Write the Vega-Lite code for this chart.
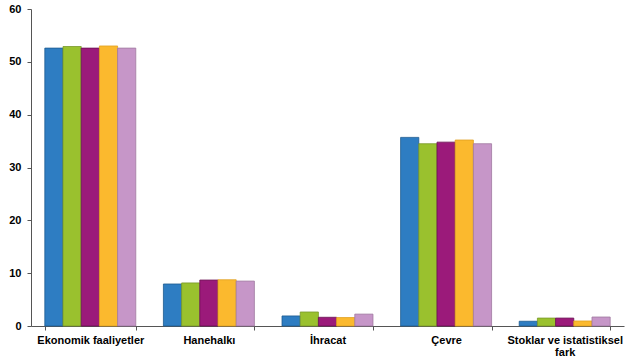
{
  "$schema": "https://vega.github.io/schema/vega-lite/v6.json",
  "width": 593,
  "height": 317,
  "autosize": {"type": "none"},
  "padding": {"left": 31, "top": 9, "right": 17, "bottom": 34},
  "background": "white",
  "data": {
    "values": [
      {"kategori": "Ekonomik faaliyetler", "seri": "S1", "deger": 52.6},
      {"kategori": "Ekonomik faaliyetler", "seri": "S2", "deger": 52.9},
      {"kategori": "Ekonomik faaliyetler", "seri": "S3", "deger": 52.6},
      {"kategori": "Ekonomik faaliyetler", "seri": "S4", "deger": 53.0},
      {"kategori": "Ekonomik faaliyetler", "seri": "S5", "deger": 52.6},
      {"kategori": "Hanehalkı", "seri": "S1", "deger": 7.95},
      {"kategori": "Hanehalkı", "seri": "S2", "deger": 8.15},
      {"kategori": "Hanehalkı", "seri": "S3", "deger": 8.7},
      {"kategori": "Hanehalkı", "seri": "S4", "deger": 8.75},
      {"kategori": "Hanehalkı", "seri": "S5", "deger": 8.5},
      {"kategori": "İhracat", "seri": "S1", "deger": 1.9},
      {"kategori": "İhracat", "seri": "S2", "deger": 2.65},
      {"kategori": "İhracat", "seri": "S3", "deger": 1.65},
      {"kategori": "İhracat", "seri": "S4", "deger": 1.6},
      {"kategori": "İhracat", "seri": "S5", "deger": 2.25},
      {"kategori": "Çevre", "seri": "S1", "deger": 35.7},
      {"kategori": "Çevre", "seri": "S2", "deger": 34.5},
      {"kategori": "Çevre", "seri": "S3", "deger": 34.8},
      {"kategori": "Çevre", "seri": "S4", "deger": 35.2},
      {"kategori": "Çevre", "seri": "S5", "deger": 34.5},
      {"kategori": "Stoklar ve istatistiksel fark", "seri": "S1", "deger": 0.9},
      {"kategori": "Stoklar ve istatistiksel fark", "seri": "S2", "deger": 1.5},
      {"kategori": "Stoklar ve istatistiksel fark", "seri": "S3", "deger": 1.5},
      {"kategori": "Stoklar ve istatistiksel fark", "seri": "S4", "deger": 0.95},
      {"kategori": "Stoklar ve istatistiksel fark", "seri": "S5", "deger": 1.7}
    ]
  },
  "mark": {"type": "bar", "strokeWidth": 0.8},
  "encoding": {
    "x": {
      "field": "kategori",
      "type": "nominal",
      "sort": null,
      "title": null,
      "scale": {"paddingInner": 0.233, "paddingOuter": 0.1165},
      "axis": {
        "labelAngle": 0,
        "labelFont": "Liberation Sans",
        "labelFontWeight": "bold",
        "labelFontSize": 11,
        "labelColor": "#000000",
        "labelPadding": 4,
        "labelLimit": 200,
        "labelLineHeight": 12,
        "labelExpr": "datum.value == 'Stoklar ve istatistiksel fark' ? ['Stoklar ve istatistiksel', 'fark'] : datum.value",
        "domainColor": "#555555",
        "tickColor": "#555555",
        "tickSize": 4,
        "tickBand": "extent",
        "grid": false
      }
    },
    "xOffset": {"field": "seri", "type": "nominal", "sort": null},
    "y": {
      "field": "deger",
      "type": "quantitative",
      "title": null,
      "scale": {"domain": [0, 60], "nice": false},
      "axis": {
        "values": [0, 10, 20, 30, 40, 50, 60],
        "grid": false,
        "labelFont": "Liberation Sans",
        "labelFontWeight": "bold",
        "labelFontSize": 11,
        "labelColor": "#000000",
        "labelPadding": 6,
        "domainColor": "#555555",
        "tickColor": "#555555",
        "tickSize": 4
      }
    },
    "color": {
      "field": "seri",
      "type": "nominal",
      "legend": null,
      "scale": {"domain": ["S1", "S2", "S3", "S4", "S5"], "range": ["#2e7dc2", "#9ac12e", "#9b1a7a", "#fbb92e", "#c696c8"]}
    },
    "stroke": {
      "field": "seri",
      "type": "nominal",
      "legend": null,
      "scale": {"domain": ["S1", "S2", "S3", "S4", "S5"], "range": ["#1d5a8f", "#78982a", "#6a1052", "#e0a020", "#a078a0"]}
    }
  },
  "config": {"view": {"stroke": null}}
}
